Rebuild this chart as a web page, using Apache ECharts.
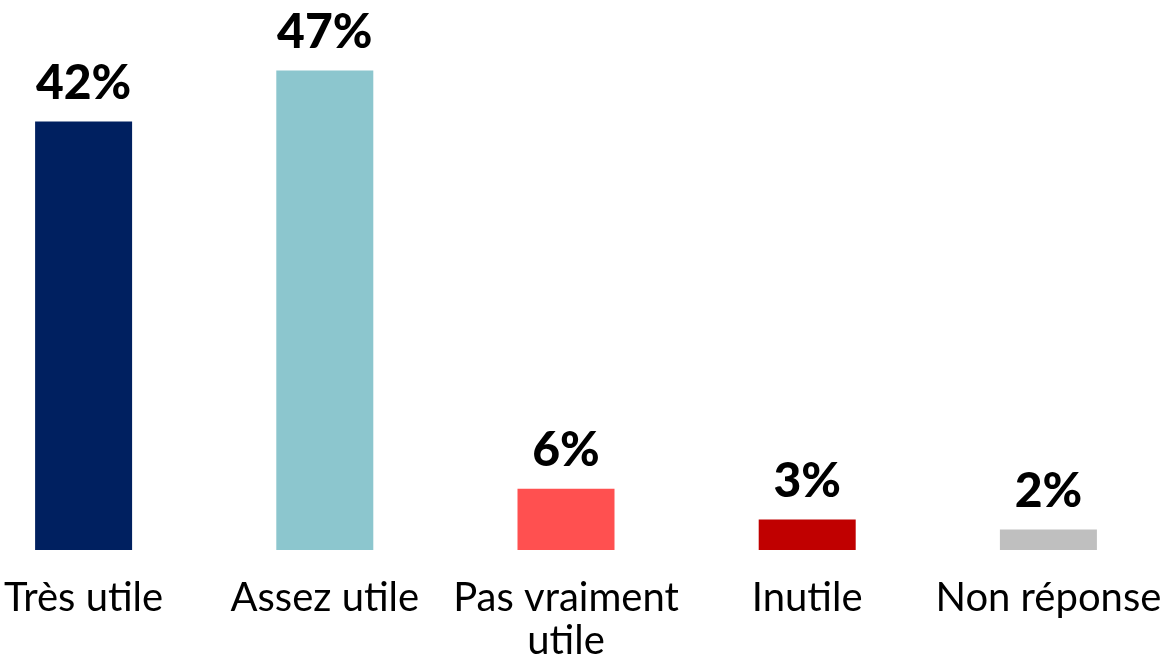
<!DOCTYPE html>
<html>
<head>
<meta charset="utf-8">
<script src="https://cdn.jsdelivr.net/npm/echarts@6/dist/echarts.min.js"></script>
<style>
    html, body { margin: 0; padding: 0; background: #ffffff; overflow: hidden; }
    /* la zone des catégories déborde un peu de la fenêtre à gauche */
    #chart { width: 1206px; height: 663px; margin-left: -37px; }
</style>
</head>
<body>
<div id="chart"></div>
<script>
// données
const categories = ['Très utile', 'Assez utile', 'Pas vraiment\nutile', 'Inutile', 'Non réponse'];
const values = [42, 47, 6, 3, 2];
const barColors = ['#002060', '#8CC6CE', '#FF5050', '#C00000', '#BFBFBF'];

const chart = echarts.init(document.getElementById('chart'));

chart.setOption({
    animation: false,
    grid: {
        left: 0,
        right: 0,
        top: 40,
        bottom: 113
    },
    xAxis: {
        type: 'category',
        data: categories,
        axisLine: { show: false },
        axisTick: { show: false },
        axisLabel: {
            interval: 0,
            margin: 27,
            color: '#000000',
            fontFamily: 'Lato, sans-serif',
            fontSize: 40,
            lineHeight: 43
        }
    },
    yAxis: {
        type: 'value',
        min: 0,
        max: 50,
        show: false,
        splitLine: { show: false }
    },
    series: [{
        type: 'bar',
        barWidth: 97,
        data: values.map((v, i) => ({
            value: v,
            itemStyle: { color: barColors[i] }
        })),
        label: {
            show: true,
            position: 'top',
            distance: 14,
            formatter: '{c}%',
            color: '#000000',
            fontFamily: 'Lato, sans-serif',
            fontWeight: 900,
            fontSize: 48
        }
    }]
});
</script>
</body>
</html>
